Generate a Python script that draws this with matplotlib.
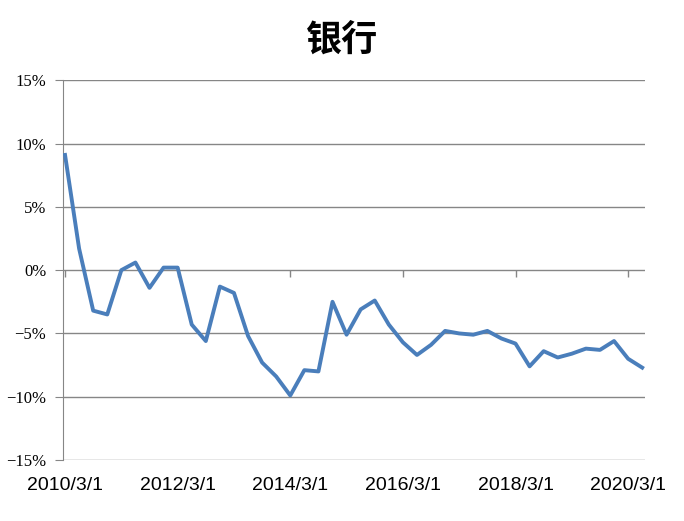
import numpy as np
import matplotlib.pyplot as plt

# quarterly series, 2010/3/1 .. 2020/6/1 (values in %)
dates = ['2010/3/1', '2010/6/1', '2010/9/1', '2010/12/1',
         '2011/3/1', '2011/6/1', '2011/9/1', '2011/12/1',
         '2012/3/1', '2012/6/1', '2012/9/1', '2012/12/1',
         '2013/3/1', '2013/6/1', '2013/9/1', '2013/12/1',
         '2014/3/1', '2014/6/1', '2014/9/1', '2014/12/1',
         '2015/3/1', '2015/6/1', '2015/9/1', '2015/12/1',
         '2016/3/1', '2016/6/1', '2016/9/1', '2016/12/1',
         '2017/3/1', '2017/6/1', '2017/9/1', '2017/12/1',
         '2018/3/1', '2018/6/1', '2018/9/1', '2018/12/1',
         '2019/3/1', '2019/6/1', '2019/9/1', '2019/12/1',
         '2020/3/1', '2020/6/1']
values = [9.1, 1.7, -3.2, -3.5, 0.0, 0.6, -1.4, 0.2, 0.2, -4.3,
          -5.6, -1.3, -1.8, -5.2, -7.3, -8.4, -9.9, -7.9, -8.0, -2.5,
          -5.1, -3.1, -2.4, -4.3, -5.7, -6.7, -5.9, -4.8, -5.0, -5.1,
          -4.8, -5.4, -5.8, -7.6, -6.4, -6.9, -6.6, -6.2, -6.3, -5.6,
          -7.0, -7.7]
yticks = [15, 10, 5, 0, -5, -10, -15]
label_idx = [0, 8, 16, 24, 32, 40]

grid_c = '#868686'
x = np.arange(len(values))

fig = plt.figure(figsize=(6.84, 5.21), dpi=100)
ax = fig.add_axes([0.092, 0.117, 0.851, 0.729])

for v in yticks:
    ax.axhline(v, color=grid_c, lw=1.0, zorder=1)
# category tick marks on the zero line
ax.vlines(label_idx, -0.55, 0, color=grid_c, lw=1.0, zorder=1)

ax.plot(x, values, color='#4A7EBB', lw=2.8, solid_joinstyle='round', zorder=3)

ax.set_xlim(-0.15, 41.2)
ax.set_ylim(-15, 15)
ax.set_yticks(yticks)
ax.set_yticklabels([('−%d%%' % -v if v < 0 else '%d%%' % v) for v in yticks],
                   family=['Liberation Serif', 'DejaVu Serif'], fontsize=12)
ax.set_xticks(label_idx)
ax.set_xticklabels([dates[i] for i in label_idx],
                   family=['Liberation Sans', 'DejaVu Sans'], fontsize=14)
ax.tick_params(axis='x', length=0, pad=12)
ax.tick_params(axis='y', length=6, color=grid_c, pad=6)

for s in ['top', 'right', 'bottom']:
    ax.spines[s].set_visible(False)
ax.spines['left'].set_color(grid_c)

fig.text(0.5, 0.922, '银行', ha='center', va='center', fontsize=26,
         family=['Noto Sans CJK SC', 'DejaVu Sans'], fontweight='bold')

fig.savefig('out.png', dpi=100)
